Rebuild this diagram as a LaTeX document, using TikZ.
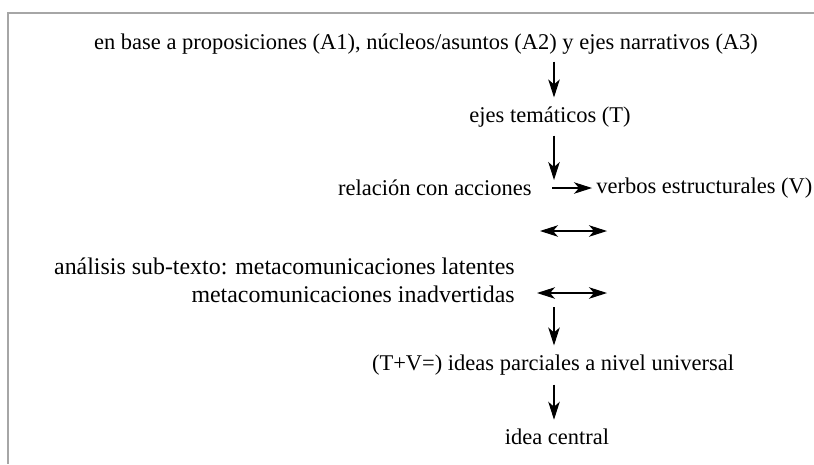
\documentclass[tikz,border=0pt]{standalone}
\usepackage{fontspec}
\setmainfont{Liberation Serif}
\usetikzlibrary{arrows.meta,positioning}
\tikzset{
	% ------- every something
	every node/.style={
		font=\fontsize{12.8}{15.5}\selectfont,
		inner sep=0pt,
	},
	% ------- custom
	flow/.style={
		line width=0.6pt,
		-{Stealth[length=3.6mm, width=2.3mm, inset=1mm]},
	},
	both ways/.style={
		line width=0.6pt,
		{Stealth[length=3.6mm, width=2.3mm, inset=1mm]}-{Stealth[length=3.6mm, width=2.3mm, inset=1mm]},
	},
	frame/.style={
		line width=1.2pt,
		gray!70,
	},
}

\begin{document}
\begin{tikzpicture}[x=0.02cm, y=-0.02cm]

% bounding box %{{{2

	\useasboundingbox (0,0) rectangle (814,464);
	\clip (0,0) rectangle (814,464);

% frame %{{{2

	\draw[frame] (814,13) -- (8,13) -- (8,464);

% texts %{{{2

	\node (base) at (426,44)
		{en base a proposiciones (A1), núcleos/asuntos (A2) y ejes narrativos (A3)};
	\node (tema) at (550,117) {ejes temáticos (T)};
	\node[anchor=east] (accion) at (532,188) {relación con acciones};
	\node[anchor=west] (verbo) at (596,188) {verbos estructurales (V)};
	\node[anchor=east, align=right, font=\fontsize{13.6}{16}\selectfont] (subtexto) at (515,280)
		{análisis sub-texto: metacomunicaciones latentes\\
		metacomunicaciones inadvertidas};
	\node (ideas) at (553,365) {(T+V=) ideas parciales a nivel universal};
	\node (central) at (557,437) {idea central};

% coordinates %{{{2

	\coordinate (cruce) at (554,180);
	\coordinate (izqA) at (540,231);
	\coordinate (derA) at (607,231);
	\coordinate (izqB) at (537,293);
	\coordinate (derB) at (607,293);
	\coordinate (bajada) at (554,307);

% arrows %{{{2

	\draw[flow, shorten <=1.4mm, shorten >=1.8mm] (cruce |- base.south) -- (cruce |- tema.north);
	\draw[flow, shorten <=1.6mm] (cruce |- tema.south) -- (cruce);
	\draw[flow, shorten <=4mm, shorten >=0.8mm] (accion.east) -- (verbo.west);
	\draw[both ways] (izqA) -- (derA);
	\draw[both ways] (izqB) -- (derB);
	\draw[flow, shorten >=1.8mm] (bajada) -- (bajada |- ideas.north);
	\draw[flow, shorten <=1.8mm, shorten >=1.8mm] (bajada |- ideas.south) -- (bajada |- central.north);

% closing %{{{2

\end{tikzpicture}
\end{document}
